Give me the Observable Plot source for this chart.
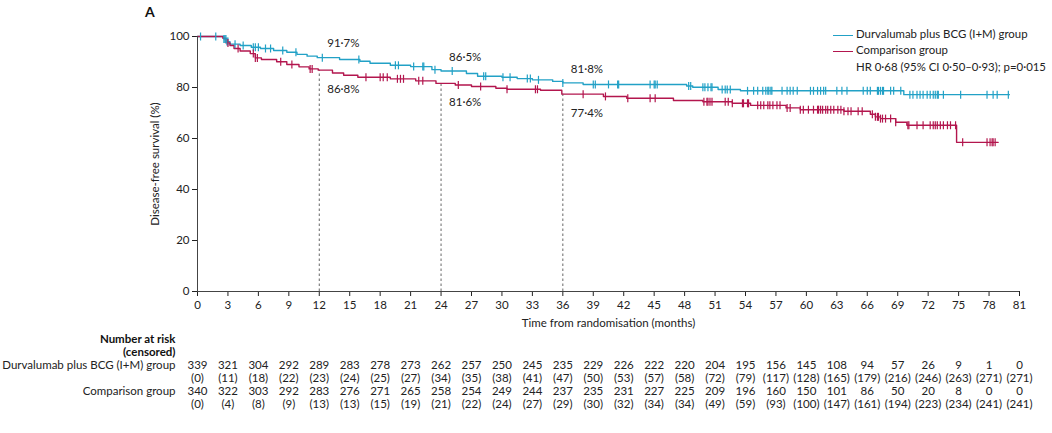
<!DOCTYPE html>
<html><head><meta charset="utf-8">
<script src="https://cdn.jsdelivr.net/npm/d3@7"></script>
<script src="https://cdn.jsdelivr.net/npm/@observablehq/plot@0.6"></script>
<style>
body{margin:0;background:#fff;font-family:Lato,sans-serif;}
#wrap{position:relative;width:1052px;height:433px;background:#fff;}
#wrap svg{display:block}
.panel{position:absolute;left:145px;top:3px;font:bold 14px Lato,sans-serif;color:#111;}
.legend{position:absolute;left:833px;top:26px;font:11.4px Lato,sans-serif;color:#222;line-height:16.3px;white-space:nowrap}
.legend .sw{display:inline-block;width:20px;height:0;border-top:1.5px solid;vertical-align:middle;margin-right:3px}
.legend .pad{display:inline-block;width:23px}
</style></head>
<body><div id="wrap"><div class="panel">A</div>
<div class="legend">
<div><span class="sw" style="border-color:#22a1c6"></span>Durvalumab plus BCG (I+M) group</div>
<div><span class="sw" style="border-color:#b3164e"></span>Comparison group</div>
<div><span class="pad"></span>HR 0·68 (95% CI 0·50–0·93); p=0·015</div>
</div></div>
<script>
// ---- data ----
const months = [0,3,6,9,12,15,18,21,24,27,30,33,36,39,42,45,48,51,54,57,60,63,66,69,72,75,78,81];
const yTicks = [0,20,40,60,80,100];

const durvaTimes = [0,2.6,2.9,3.2,4.2,5.3,6.2,7.5,8.8,9.8,10.8,11.8,14,16,17,19,21,23.1,24,26.5,27.6,30,31.5,33,35,36,38,48.2,48.8,51.3,53.5,69.6,80];
const durvaSurv  = [100,99,98,97,96.5,95.8,95.3,94.5,93.8,93,92.3,91.7,91,90.3,89.5,88.7,88.2,87,86.5,85.5,84.4,84,83.5,83,82.4,81.8,81.2,80.6,80.1,79.2,78.7,77.2,77.2];

const compTimes = [0,2.5,2.8,3.2,3.6,4.2,5.2,5.7,6.3,7.8,8.8,10,11,11.9,13.3,14.4,15.8,19,21.5,23.5,25.4,27,29.4,30.5,33.8,35.9,40,42.3,46.9,49.8,52.7,54.5,58,59.4,63.7,66.3,66.8,67.3,68.8,69.9,74.8,78.9];
const compSurv  = [100,99.3,97.5,96.5,95.3,94.3,93.3,91.6,91,90.1,89,88.1,87.3,86.8,85.7,84.8,84,83.4,82.6,81.6,81,80.4,79.7,79.3,78.9,77.4,76.5,75.8,74.9,74.4,73.8,73,72,71.3,70.7,69.5,68.5,67.8,66.4,65.2,58.5,58.5];

const durvaCensorTimes = [0.3,1.8,2.6,2.7,2.8,2.9,3.0,3.7,4.5,5.5,5.7,6.0,6.7,7.2,8.4,9.7,12.3,15.9,19.5,19.8,21.3,22.2,22.3,23.4,25.1,28.2,28.4,30.1,30.8,32.5,32.8,33.6,36.0,39,39.2,40.5,41.4,41.5,44.6,45,45.1,45.3,48.4,48.6,49.8,50,50.3,50.6,50.7,51.7,52,52.2,52.5,54.2,54.8,55.2,55.7,56,56.2,56.3,56.5,56.6,57.6,58.1,58.4,58.7,59.1,60.4,60.7,61.1,61.4,61.7,61.9,63,63.5,64,65.6,66,66.3,67,67.1,67.3,67.5,67.6,68.3,68.6,69.3,70.2,70.5,70.9,71.2,71.5,71.9,72.2,72.5,72.7,72.9,73,73.5,75.2,77.8,78.4,78.8,79.9];
const compCensorTimes = [3,4,5.5,5.7,5.9,8.2,9.3,11.1,11.3,16.6,18,18.3,18.7,19.7,20,20.3,21.8,22.2,25.7,27.9,30.5,33.3,33.5,38,40.2,42.4,44.6,45.1,49.9,50.2,50.3,50.5,50.7,52,52.3,52.7,53.7,53.8,54.2,54.3,55.2,55.5,55.8,56.2,56.4,56.7,57.1,57.4,58.1,58.4,59.4,59.7,60.2,60.7,61.1,61.2,61.4,61.6,61.9,62.1,62.4,62.7,63.1,63.4,63.7,64.1,64.4,65.1,65.5,66.5,66.8,67,67.1,67.3,67.5,67.8,68.3,68.8,70,70.1,70.9,71.5,72.2,72.5,72.7,72.9,73.2,73.5,73.9,74.2,74.7,75.4,77.8,78.1,78.3,78.4,78.6];

const landmarkMonths = [12,24,36];
const landmarkDurva = [91.7,86.5,81.8];
const landmarkComp  = [86.8,81.6,77.4];

const durvaRisk = [339,321,304,292,289,283,278,273,262,257,250,245,235,229,226,222,220,204,195,156,145,108,94,57,26,9,1,0];
const durvaCens = [0,11,18,22,23,24,25,27,34,35,38,41,47,50,53,57,58,72,79,117,128,165,179,216,246,263,271,271];
const compRisk  = [340,322,303,292,283,276,271,265,258,254,249,244,237,235,231,227,225,209,196,160,150,101,86,50,20,8,0,0];
const compCens  = [0,4,8,9,13,13,15,19,21,22,24,27,29,30,32,34,34,49,59,93,100,147,161,194,223,234,241,241];

const rowLabels = ["Durvalumab plus BCG (I+M) group","","Comparison group",""];
const headLabels = ["Number at risk","(censored)"];

// ---- build ----
const blue = "#22a1c6", red = "#b3164e", font = "Lato, sans-serif";
const fmt = v => v.toFixed(1).replace(".", "·") + "%";
const stepAt = (times, surv, t) => { let v = surv[0]; for (let i = 0; i < times.length; i++) { if (times[i] <= t) v = surv[i]; else break; } return v; };

const durvaCurve = durvaTimes.map((t, i) => ({t, s: durvaSurv[i]}));
const compCurve = compTimes.map((t, i) => ({t, s: compSurv[i]}));
const durvaMarks = durvaCensorTimes.map(t => ({t, s: stepAt(durvaTimes, durvaSurv, t)}));
const compMarks = compCensorTimes.map(t => ({t, s: stepAt(compTimes, compSurv, t)}));
const landmarks = landmarkMonths.map((m, i) => ({m, d: landmarkDurva[i], c: landmarkComp[i]}));

const vtick = {draw(ctx, size) { const h = Math.sqrt(size / Math.PI); ctx.moveTo(0, -h); ctx.lineTo(0, h); }};

const main = Plot.plot({
  width: 1052, height: 328,
  marginLeft: 197, marginRight: 33, marginTop: 36, marginBottom: 37,
  style: {fontFamily: font, fontSize: "11.5px", color: "#222", background: "transparent", overflow: "visible"},
  x: {domain: [0, 81], ticks: months, tickSize: 5, tickPadding: 4, label: "Time from randomisation (months)", labelAnchor: "center", labelArrow: "none", labelOffset: 35},
  y: {domain: [0, 100], ticks: yTicks, tickSize: 5, tickPadding: 3, label: "Disease-free survival (%)", labelAnchor: "center", labelArrow: "none", labelOffset: 47},
  marks: [
    Plot.ruleX(landmarks, {x: "m", y1: 0, y2: "c", stroke: "#666", strokeWidth: 1, strokeDasharray: "2.5,2.5"}),
    Plot.line(durvaCurve, {x: "t", y: "s", curve: "step-after", stroke: blue, strokeWidth: 1.4}),
    Plot.line(compCurve, {x: "t", y: "s", curve: "step-after", stroke: red, strokeWidth: 1.4}),
    Plot.dot(durvaMarks, {x: "t", y: "s", symbol: vtick, r: 4, fill: "none", stroke: blue, strokeWidth: 1.2}),
    Plot.dot(compMarks, {x: "t", y: "s", symbol: vtick, r: 4, fill: "none", stroke: red, strokeWidth: 1.2}),
    Plot.text(landmarks, {x: "m", y: "d", text: d => fmt(d.d), textAnchor: "start", dx: 8, dy: -14, fill: "#222", fontSize: 11.5}),
    Plot.text(landmarks, {x: "m", y: "c", text: d => fmt(d.c), textAnchor: "start", dx: 8, dy: 19, fill: "#222", fontSize: 11.5}),
    Plot.ruleX([0], {stroke: "#444"}),
    Plot.ruleY([0], {stroke: "#444"})
  ]
});

const rows = ["h1", "h2", "r1", "c1", "r2", "c2"];
const cells = [];
months.forEach((m, i) => {
  cells.push({m, row: "r1", text: String(durvaRisk[i])});
  cells.push({m, row: "c1", text: "(" + durvaCens[i] + ")"});
  cells.push({m, row: "r2", text: String(compRisk[i])});
  cells.push({m, row: "c2", text: "(" + compCens[i] + ")"});
});
const labelRows = rowLabels.map((l, i) => ({row: rows[i + 2], l}));
const headRows = headLabels.map((l, i) => ({row: rows[i], l}));

const risk = Plot.plot({
  width: 1052, height: 105,
  marginLeft: 197, marginRight: 33, marginTop: 0, marginBottom: 0,
  style: {fontFamily: font, fontSize: "11.5px", color: "#222", background: "transparent", overflow: "visible"},
  x: {domain: [0, 81], axis: null},
  y: {type: "point", domain: rows, range: [4, 83], axis: null},
  marks: [
    Plot.text(cells, {x: "m", y: "row", text: "text", fill: "#222", fontSize: 11.5}),
    Plot.text(labelRows, {frameAnchor: "left", y: "row", text: "l", textAnchor: "end", dx: -22, fill: "#222", fontSize: 11.5}),
    Plot.text(headRows, {frameAnchor: "left", y: "row", text: "l", textAnchor: "end", dx: -22, fill: "#111", fontSize: 11.5, fontWeight: "bold"})
  ]
});

const wrap = document.getElementById("wrap");
wrap.insertBefore(risk, wrap.firstChild);
wrap.insertBefore(main, wrap.firstChild);
</script>
</body></html>
